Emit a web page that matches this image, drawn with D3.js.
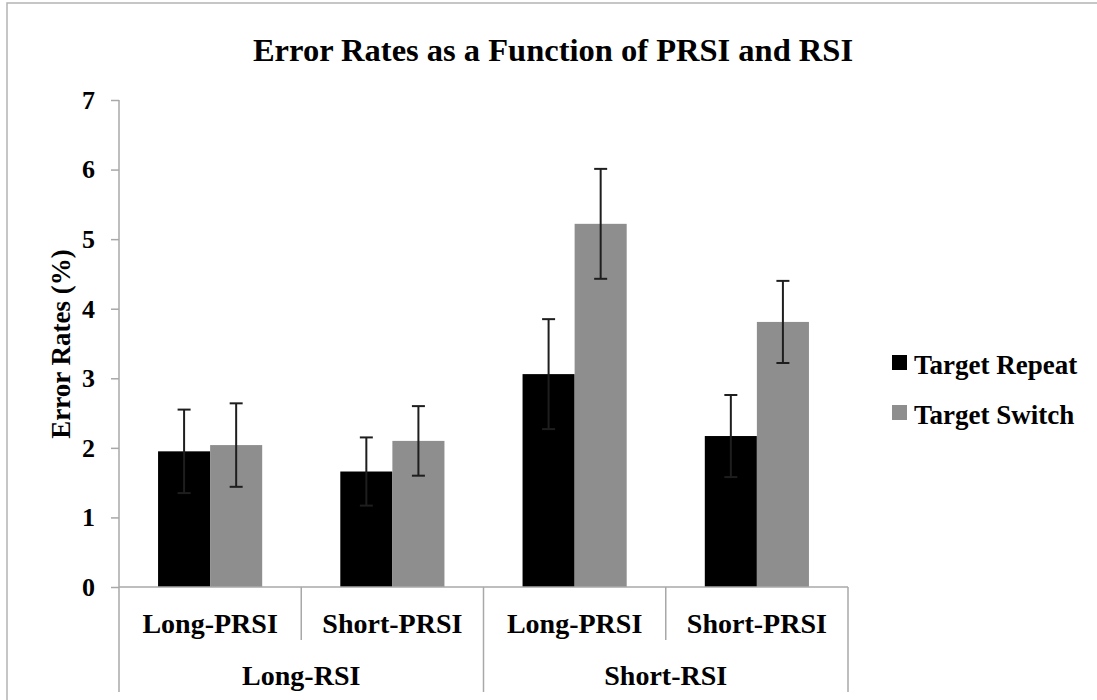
<!DOCTYPE html>
<html>
<head>
<meta charset="utf-8">
<script src="https://cdn.jsdelivr.net/npm/d3@7"></script>
<style>
  body { margin: 0; background: #fff; }
  text { font-family: "Liberation Serif", "Times New Roman", serif; font-weight: bold; fill: #000; }
</style>
</head>
<body>
<div class="chart_container"></div>
<script>
// data
var rsi_groups = ["Long-RSI", "Short-RSI"];
var prsi_labels = ["Long-PRSI", "Short-PRSI", "Long-PRSI", "Short-PRSI"];
var series = ["Target Repeat", "Target Switch"];
var repeat_vals = [1.95, 1.66, 3.06, 2.17];
var repeat_err = [0.60, 0.49, 0.79, 0.59];
var switch_vals = [2.04, 2.10, 5.22, 3.81];
var switch_err = [0.60, 0.50, 0.79, 0.59];
var y_ticks = [0, 1, 2, 3, 4, 5, 6, 7];

var w = 1097, h = 700;
var left = 119, right = 848, top_y = 100, base = 587;
var axis_col = "#a8a8a8";

var svg = d3.select('.chart_container')
    .append('svg')
    .attr('width', w)
    .attr('height', h);

// chart frame
svg.append('rect')
    .attr('x', 7).attr('y', 3)
    .attr('width', 1300).attr('height', 900)
    .attr('fill', 'none')
    .attr('stroke', '#b4b4b4')
    .attr('stroke-width', 1.5);

// title
svg.append('text')
    .attr('x', 553).attr('y', 61)
    .style('text-anchor', 'middle')
    .style('font-size', '32.5px')
    .text('Error Rates as a Function of PRSI and RSI');

// scales
var y_scale = d3.scaleLinear().domain([0, 7]).range([base, top_y]);
var x_scale = d3.scaleBand().domain(d3.range(prsi_labels.length)).range([left, right]);
var x_inner = d3.scaleBand().domain(series).range([0, x_scale.bandwidth()])
    .paddingInner(0).paddingOuter(0.75);
var group_scale = d3.scaleBand().domain(rsi_groups).range([left, right]);
var color = d3.scaleOrdinal().domain(series).range(["#000000", "#8e8e8e"]);

// y axis
var y_axis = d3.axisLeft(y_scale)
    .tickValues(y_ticks)
    .tickFormat(d3.format('d'))
    .tickSize(8)
    .tickPadding(16);
var y_g = svg.append('g')
    .attr('transform', 'translate(' + left + ',0)')
    .call(y_axis);
y_g.select('.domain').attr('stroke', axis_col).attr('stroke-width', 1.5)
    .attr('d', 'M0,' + top_y + 'V' + base);
y_g.selectAll('.tick line').attr('stroke', axis_col).attr('stroke-width', 1.5);
y_g.selectAll('.tick text')
    .style('font-size', '26px')
    .style('font-family', '"Liberation Serif", "Times New Roman", serif')
    .attr('fill', '#000');

// y label
svg.append('text')
    .attr('transform', 'translate(70,344) rotate(-90)')
    .style('text-anchor', 'middle')
    .style('font-size', '27px')
    .text('Error Rates (%)');

// bars
var rows = prsi_labels.map(function(p, i) {
    return [
        {i: i, s: series[0], v: repeat_vals[i], e: repeat_err[i]},
        {i: i, s: series[1], v: switch_vals[i], e: switch_err[i]}
    ];
});
var cats = svg.selectAll('.cat')
    .data(rows)
    .enter()
    .append('g')
    .attr('class', 'cat')
    .attr('transform', function(d, i) { return 'translate(' + x_scale(i) + ',0)'; });

cats.selectAll('rect')
    .data(function(d) { return d; })
    .enter()
    .append('rect')
    .attr('x', function(d) { return x_inner(d.s); })
    .attr('width', x_inner.bandwidth())
    .attr('y', function(d) { return y_scale(d.v); })
    .attr('height', function(d) { return y_scale(0) - y_scale(d.v); })
    .attr('fill', function(d) { return color(d.s); });

// error bars
var cap = 6.5;
var err = cats.selectAll('.err')
    .data(function(d) { return d; })
    .enter()
    .append('g')
    .attr('class', 'err')
    .attr('stroke', '#1e1e1e')
    .attr('stroke-width', 2);
err.append('line')
    .attr('x1', function(d) { return x_inner(d.s) + x_inner.bandwidth() / 2; })
    .attr('x2', function(d) { return x_inner(d.s) + x_inner.bandwidth() / 2; })
    .attr('y1', function(d) { return y_scale(d.v + d.e); })
    .attr('y2', function(d) { return y_scale(d.v - d.e); });
err.append('line')
    .attr('x1', function(d) { return x_inner(d.s) + x_inner.bandwidth() / 2 - cap; })
    .attr('x2', function(d) { return x_inner(d.s) + x_inner.bandwidth() / 2 + cap; })
    .attr('y1', function(d) { return y_scale(d.v + d.e); })
    .attr('y2', function(d) { return y_scale(d.v + d.e); });
err.append('line')
    .attr('x1', function(d) { return x_inner(d.s) + x_inner.bandwidth() / 2 - cap; })
    .attr('x2', function(d) { return x_inner(d.s) + x_inner.bandwidth() / 2 + cap; })
    .attr('y1', function(d) { return y_scale(d.v - d.e); })
    .attr('y2', function(d) { return y_scale(d.v - d.e); });

// x axis, two levels
var x_g = svg.append('g').attr('class', 'x_axis');
x_g.append('line')
    .attr('x1', left).attr('x2', right)
    .attr('y1', base).attr('y2', base)
    .attr('stroke', axis_col).attr('stroke-width', 1.5);
// inner separators between PRSI labels
x_g.selectAll('.sep_inner')
    .data(d3.range(prsi_labels.length).filter(function(i) { return i % 2 == 1; }))
    .enter()
    .append('line')
    .attr('x1', function(i) { return x_scale(i); })
    .attr('x2', function(i) { return x_scale(i); })
    .attr('y1', base).attr('y2', 640)
    .attr('stroke', axis_col).attr('stroke-width', 1.5);
// outer separators between RSI groups
var outer_x = rsi_groups.map(function(g) { return group_scale(g); }).concat([right]);
x_g.selectAll('.sep_outer')
    .data(outer_x)
    .enter()
    .append('line')
    .attr('x1', function(d) { return d; })
    .attr('x2', function(d) { return d; })
    .attr('y1', base).attr('y2', 692)
    .attr('stroke', axis_col).attr('stroke-width', 1.5);

x_g.selectAll('.prsi')
    .data(prsi_labels)
    .enter()
    .append('text')
    .attr('x', function(d, i) { return x_scale(i) + x_scale.bandwidth() / 2; })
    .attr('y', 633)
    .style('text-anchor', 'middle')
    .style('font-size', '28px')
    .text(function(d) { return d; });
x_g.selectAll('.rsi')
    .data(rsi_groups)
    .enter()
    .append('text')
    .attr('x', function(d) { return group_scale(d) + group_scale.bandwidth() / 2; })
    .attr('y', 685)
    .style('text-anchor', 'middle')
    .style('font-size', '28px')
    .text(function(d) { return d; });

// legend
var legend = svg.selectAll('.legend')
    .data(series)
    .enter()
    .append('g')
    .attr('class', 'legend')
    .attr('transform', function(d, i) { return 'translate(892,' + (355 + i * 50) + ')'; });
legend.append('rect')
    .attr('width', 15).attr('height', 15)
    .attr('fill', function(d) { return color(d); });
legend.append('text')
    .attr('x', 22).attr('y', 19)
    .style('font-size', '27px')
    .text(function(d) { return d; });
</script>
</body>
</html>
